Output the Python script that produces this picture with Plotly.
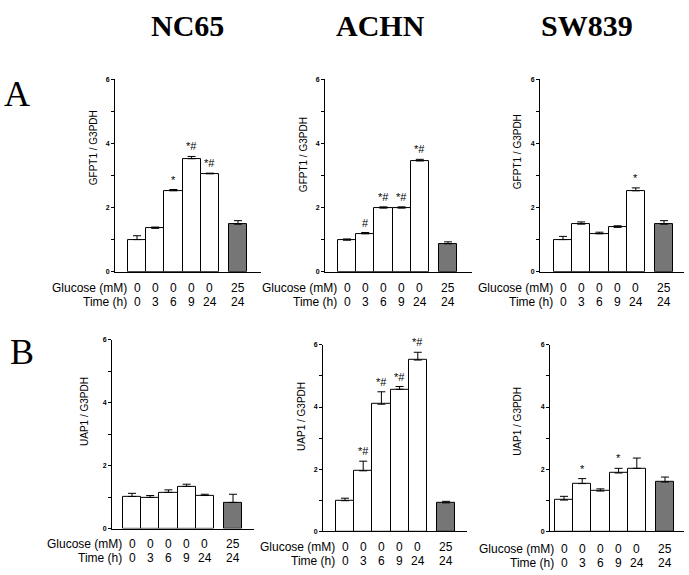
import plotly.graph_objects as go

# conditions (same for every panel)
glucose_mM = ["0", "0", "0", "0", "0", "25"]
time_h = ["0", "3", "6", "9", "24", "24"]
cell_lines = ["NC65", "ACHN", "SW839"]

# A: GFPT1 / G3PDH
gfpt1_nc65 = [1.0, 1.35, 2.52, 3.52, 3.05, 1.48]
gfpt1_nc65_err = [0.12, 0.04, 0.04, 0.07, 0.02, 0.11]
gfpt1_nc65_sig = ["", "", "*", "*#", "*#", ""]

gfpt1_achn = [0.98, 1.18, 1.98, 1.98, 3.45, 0.87]
gfpt1_achn_err = [0.04, 0.04, 0.04, 0.04, 0.05, 0.06]
gfpt1_achn_sig = ["", "#", "*#", "*#", "*#", ""]

gfpt1_sw839 = [1.0, 1.48, 1.18, 1.38, 2.52, 1.48]
gfpt1_sw839_err = [0.1, 0.07, 0.05, 0.05, 0.09, 0.11]
gfpt1_sw839_sig = ["", "", "", "", "*", ""]

# B: UAP1 / G3PDH
uap1_nc65 = [1.02, 0.99, 1.15, 1.34, 1.05, 0.83]
uap1_nc65_err = [0.1, 0.06, 0.08, 0.07, 0.04, 0.26]
uap1_nc65_sig = ["", "", "", "", "", ""]

uap1_achn = [0.99, 1.95, 4.09, 4.57, 5.51, 0.92]
uap1_achn_err = [0.08, 0.31, 0.4, 0.09, 0.25, 0.05]
uap1_achn_sig = ["", "*#", "*#", "*#", "*#", ""]

uap1_sw839 = [1.01, 1.54, 1.3, 1.88, 2.03, 1.59]
uap1_sw839_err = [0.12, 0.16, 0.07, 0.15, 0.33, 0.16]
uap1_sw839_sig = ["", "*", "", "*", "", ""]

W, H = 689, 575
SANS = "Liberation Sans, Arial, sans-serif"
SERIF = "Liberation Serif, Times New Roman, serif"
bar_x = [1, 2, 3, 4, 5, 6.55]
unit = 18.2  # px per bar

# (values, errors, marks, y title, axis px, bar1 centre px, x end px, y0 px, y6 px,
#  glucose row px, time row px, y title x px, y title centre px)
panels = [
    (gfpt1_nc65, gfpt1_nc65_err, gfpt1_nc65_sig, "GFPT1 / G3PDH", 115, 137, 261, 271, 76, 288, 302, 93, 146),
    (gfpt1_achn, gfpt1_achn_err, gfpt1_achn_sig, "GFPT1 / G3PDH", 325, 347, 472, 271, 76, 288, 302, 303, 153),
    (gfpt1_sw839, gfpt1_sw839_err, gfpt1_sw839_sig, "GFPT1 / G3PDH", 540, 563, 684, 271, 76, 288, 302, 517, 150),
    (uap1_nc65, uap1_nc65_err, uap1_nc65_sig, "UAP1 / G3PDH", 112, 132, 254, 531, 340, 547, 561, 85, 413),
    (uap1_achn, uap1_achn_err, uap1_achn_sig, "UAP1 / G3PDH", 323, 345, 467, 534, 345, 550, 564, 302, 418),
    (uap1_sw839, uap1_sw839_err, uap1_sw839_sig, "UAP1 / G3PDH", 550, 564, 684, 534, 345, 552, 566, 518, 423),
]

fig = go.Figure()
annotations = []


def txt(x, y, text, xref="paper", yref="paper", size=12, xanchor="center",
        yanchor="middle", family=SANS, **kw):
    font = dict(family=family, size=size, color="black")
    font.update(kw.pop("font", {}))
    return dict(x=x, y=y, xref=xref, yref=yref, text=text, showarrow=False,
                xanchor=xanchor, yanchor=yanchor, font=font, **kw)


for i, (vals, errs, sig, ytitle, ax_px, b1_px, end_px, y0_px, y6_px,
        glu_px, time_px, yt_x, yt_y) in enumerate(panels, start=1):
    xa = "x" if i == 1 else f"x{i}"
    ya = "y" if i == 1 else f"y{i}"
    fig.add_trace(go.Bar(
        x=bar_x, y=vals, width=1,
        marker=dict(color=["white"] * 5 + ["#767676"], line=dict(color="black", width=1)),
        error_y=dict(type="data", array=errs, arrayminus=[0] * 6, symmetric=False,
                     color="black", thickness=1, width=4),
        xaxis=xa, yaxis=ya, showlegend=False,
    ))
    sfx = "" if i == 1 else str(i)
    fig.update_layout(**{
        f"xaxis{sfx}": dict(
            domain=[ax_px / W, end_px / W],
            range=[1 - (b1_px - ax_px) / unit, 1 + (end_px - b1_px) / unit],
            showline=True, linecolor="black", linewidth=1, showgrid=False,
            zeroline=False, showticklabels=False, ticks="", anchor=ya,
        ),
        f"yaxis{sfx}": dict(
            domain=[1 - y0_px / H, 1 - y6_px / H], range=[0, 6],
            showline=True, linecolor="black", linewidth=1, showgrid=False,
            zeroline=False, tickvals=[0, 2, 4, 6], ticks="outside", ticklen=3,
            tickcolor="black", tickfont=dict(family=SANS, size=7, color="black", weight="bold"),
            minor=dict(tickvals=[1, 3, 5], ticks="outside", ticklen=3, tickcolor="black"),
            anchor=xa,
        ),
    })
    # significance marks
    for xv, v, e, s in zip(bar_x, vals, errs, sig):
        if s:
            annotations.append(txt(xv, v + e, s, xref=xa, yref=ya, size=11,
                                   yanchor="bottom", yshift=2))
    # condition table
    for xv, g, t in zip(bar_x, glucose_mM, time_h):
        annotations.append(txt(xv, 1 - glu_px / H, g, xref=xa))
        annotations.append(txt(xv, 1 - time_px / H, t, xref=xa))
    for lbl, py in (("Glucose (mM)", glu_px), ("Time (h)", time_px)):
        annotations.append(txt(1, 1 - py / H, lbl, xref=xa, xanchor="right", xshift=-8))
    # y title
    annotations.append(txt(yt_x / W, 1 - yt_y / H, ytitle, size=10, textangle=-90))

# column headers and row letters
for name, cx in zip(cell_lines, [187, 380, 587]):
    annotations.append(txt(cx / W, 1 - 22 / H, name, size=30, family=SERIF,
                           font=dict(weight="bold")))
for letter, cx, cy in (("A", 17, 91), ("B", 22, 352)):
    annotations.append(txt(cx / W, 1 - cy / H, letter, size=36, family=SERIF))

fig.update_layout(
    width=W, height=H, margin=dict(l=0, r=0, t=0, b=0),
    paper_bgcolor="white", plot_bgcolor="white",
    bargap=0, annotations=annotations, showlegend=False,
)

fig.write_html("out.html", config={"displayModeBar": False},
               post_script="document.body.style.margin='0';")
